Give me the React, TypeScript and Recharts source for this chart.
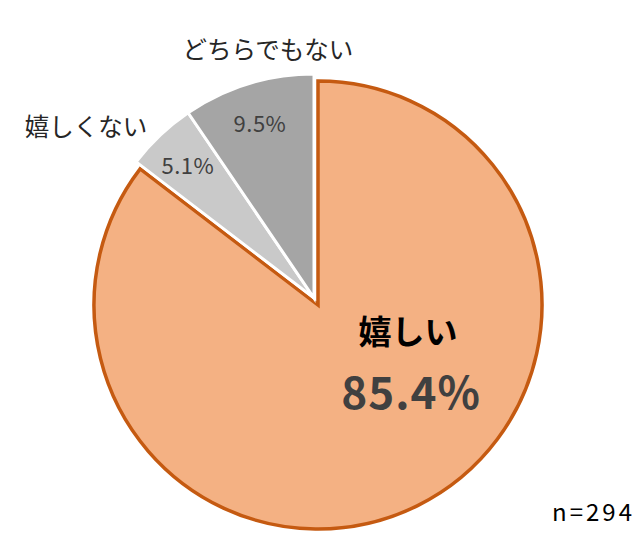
import React from 'react';
import { PieChart, Pie, Cell } from 'recharts';

const categories = ['嬉しい', '嬉しくない', 'どちらでもない'];
const shares = [85.4, 5.1, 9.5];
const sampleLabel = 'n=294';

const data = categories.map((name, i) => ({ name, value: shares[i] }));

const FILLS = ['#F4B183', '#C9C9C9', '#A5A5A5'];
const FONT = '"Noto Sans CJK JP", "Noto Sans", sans-serif';
const RAD = Math.PI / 180;

const renderLabel = (props: any) => {
  const { cx, cy, midAngle, outerRadius, index, name, value } = props;
  const pct = `${value.toFixed(1)}%`;
  if (index === 0) {
    return (
      <g key={`lbl-${index}`}>
        <text x={cx + 94} y={cy + 32} textAnchor="middle" dominantBaseline="central"
          fill="#000" fontFamily={FONT} fontSize={33} fontWeight={700}>{name}</text>
        <text x={cx + 97} y={cy + 92} textAnchor="middle" dominantBaseline="central"
          fill="#404040" fontFamily={FONT} fontSize={44} fontWeight={700} letterSpacing={1}>{pct}</text>
      </g>
    );
  }
  const r = outerRadius * 0.82;
  const x = cx + r * Math.cos(-midAngle * RAD);
  const y = cy + r * Math.sin(-midAngle * RAD);
  // category names sit outside the pie
  const out = index === 1 ? { x: cx - 228, y: cy - 173 } : { x: cx - 46, y: cy - 250 };
  return (
    <g key={`lbl-${index}`}>
      <text x={x} y={y} textAnchor="middle" dominantBaseline="central"
        fill="#404040" fontFamily={FONT} fontSize={22} letterSpacing={0.5}>{pct}</text>
      <text x={out.x} y={out.y} textAnchor="middle" dominantBaseline="central"
        fill="#262626" fontFamily={FONT} fontSize={24.5}>{name}</text>
    </g>
  );
};

export default function App() {
  return (
    <div style={{ position: 'absolute', left: 0, top: 0, width: 643, height: 558, background: '#fff' }}>
      <PieChart width={643} height={558}>
        <Pie
          data={data}
          dataKey="value"
          nameKey="name"
          cx={313}
          cy={300}
          outerRadius={224}
          startAngle={90}
          endAngle={-270}
          labelLine={false}
          isAnimationActive={false}
        >
          {data.map((d, i) => (
            <Cell key={`o-${i}`} fill={i === 0 ? FILLS[0] : 'none'} stroke={i === 0 ? '#C55A11' : 'none'} strokeWidth={3.5} />
          ))}
        </Pie>
        <Pie
          data={data}
          dataKey="value"
          nameKey="name"
          cx={309}
          cy={293}
          outerRadius={224}
          startAngle={90}
          endAngle={-270}
          labelLine={false}
          label={renderLabel}
          isAnimationActive={false}
        >
          {data.map((d, i) => (
            <Cell key={`g-${i}`} fill={i === 0 ? 'none' : FILLS[i]} stroke={i === 0 ? 'none' : '#fff'} strokeWidth={3} />
          ))}
        </Pie>
      </PieChart>
      <div style={{ position: 'absolute', right: 8, top: 493, fontFamily: FONT, fontSize: 24, letterSpacing: 3, color: '#000', whiteSpace: 'nowrap' }}>
        {sampleLabel}
      </div>
    </div>
  );
}
